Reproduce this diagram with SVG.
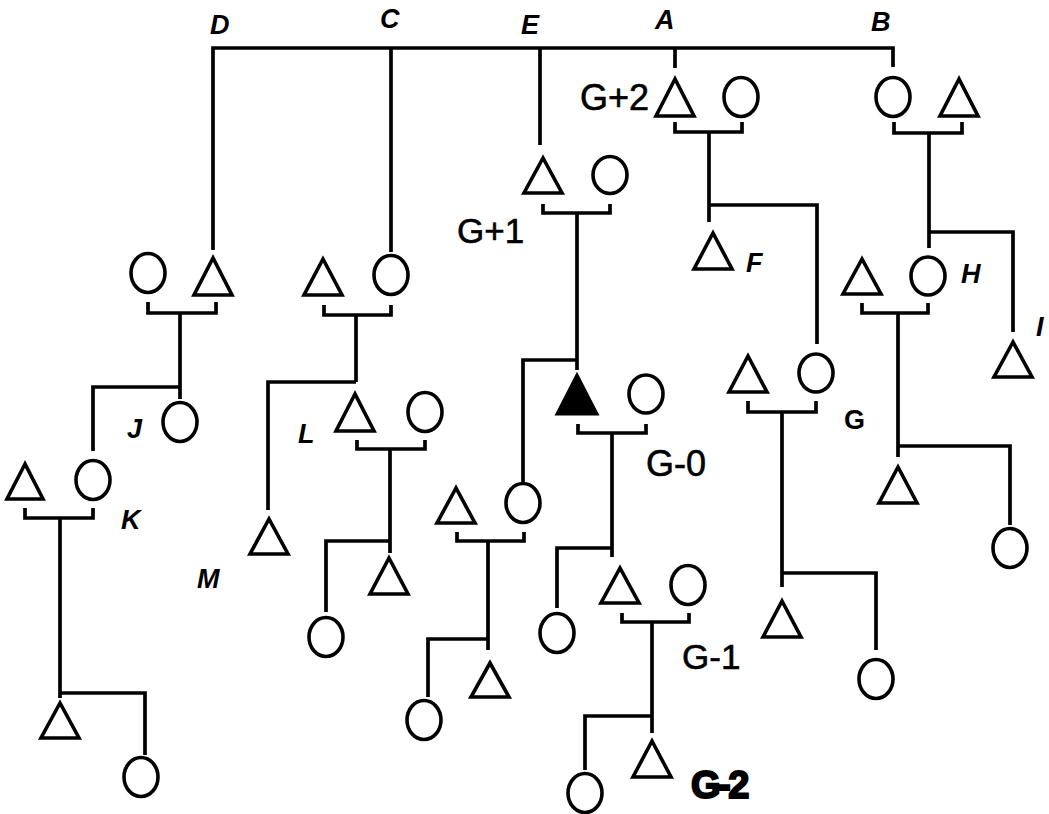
<svg xmlns="http://www.w3.org/2000/svg" width="1049" height="814" viewBox="0 0 1049 814">
<style>
.ln{fill:none;stroke:#000;stroke-width:3.7;stroke-linejoin:miter;stroke-linecap:butt}
.m{fill:#fff;stroke:#000;stroke-width:3.6;stroke-linejoin:miter}
.pf{fill:#000;stroke:#000;stroke-width:3}
.lt{font-family:"Liberation Sans",Arial,sans-serif;font-style:italic;font-weight:bold;font-size:27px;fill:#000}
.gt{font-family:"Liberation Sans",Arial,sans-serif;font-size:35px;fill:#000;stroke:#000;stroke-width:0.6}
.gb{font-family:"Liberation Sans",Arial,sans-serif;font-size:38px;font-weight:bold;fill:#000;stroke:#000;stroke-width:2;letter-spacing:-2.5px}
</style>
<rect width="1049" height="814" fill="#fff"/>
<g id="connectors">
<path class="ln" d="M213,250 V48 H893 V67"/>
<path class="ln" d="M391,48 V252"/>
<path class="ln" d="M540,48 V145"/>
<path class="ln" d="M675,48 V68"/>
<path class="ln" d="M675,122 V132 H742 V122"/>
<path class="ln" d="M709,132 V222 M709,205 H817 V344"/>
<path class="ln" d="M894,122 V133 H962 V122"/>
<path class="ln" d="M929,133 V248 M929,232 H1013 V332"/>
<path class="ln" d="M543,204 V213 H610 V204"/>
<path class="ln" d="M577,213 V370 M577,360 H523 V482"/>
<path class="ln" d="M148,302 V313 H216 V302"/>
<path class="ln" d="M180,313 V399 M180,387 H93 V451"/>
<path class="ln" d="M324,305 V315 H391 V305"/>
<path class="ln" d="M356,315 V382 M356,382 H268 V510"/>
<path class="ln" d="M357,440 V449 H425 V440"/>
<path class="ln" d="M390,449 V553 M390,541 H326 V612"/>
<path class="ln" d="M25,508 V518 H93 V508"/>
<path class="ln" d="M60,518 V698 M60,693 H145 V755"/>
<path class="ln" d="M578,424 V433 H646 V424"/>
<path class="ln" d="M612,433 V557 M612,548 H557 V608"/>
<path class="ln" d="M457,532 V541 H524 V532"/>
<path class="ln" d="M488,541 V650 M488,639 H428 V697"/>
<path class="ln" d="M748,401 V412 H816 V401"/>
<path class="ln" d="M782,412 V587 M782,573 H876 V650"/>
<path class="ln" d="M862,303 V313 H928 V303"/>
<path class="ln" d="M898,313 V457 M898,446 H1010 V525"/>
<path class="ln" d="M622,613 V622 H689 V613"/>
<path class="ln" d="M652,622 V733 M652,716 H585 V770"/>
</g>
<g id="n-A"><polygon class="m" points="675,79 656,116 694,116"/></g>
<g id="n-A-wife"><ellipse class="m" cx="741" cy="97" rx="17" ry="19.5"/></g>
<g id="n-B"><ellipse class="m" cx="893" cy="97" rx="17" ry="19.5"/></g>
<g id="n-B-husband"><polygon class="m" points="959,79 940,116 978,116"/></g>
<g id="n-E"><polygon class="m" points="543,158 524,193 562,193"/></g>
<g id="n-E-wife"><ellipse class="m" cx="610" cy="175" rx="17" ry="18.5"/></g>
<g id="n-F"><polygon class="m" points="713,233 694,269 732,269"/></g>
<g id="n-D-wife"><ellipse class="m" cx="148" cy="273" rx="17" ry="19.5"/></g>
<g id="n-D"><polygon class="m" points="213,258 194,295 232,295"/></g>
<g id="n-C-husband"><polygon class="m" points="323,259 304,295 342,295"/></g>
<g id="n-C"><ellipse class="m" cx="391" cy="275" rx="17" ry="19.5"/></g>
<g id="n-H-husband"><polygon class="m" points="862,259 843,294 881,294"/></g>
<g id="n-H"><ellipse class="m" cx="928" cy="276" rx="17" ry="19"/></g>
<g id="n-I"><polygon class="m" points="1013,342 994,377 1032,377"/></g>
<g id="n-G-husband"><polygon class="m" points="748,356 729,392 767,392"/></g>
<g id="n-G"><ellipse class="m" cx="816" cy="373" rx="17" ry="19"/></g>
<g id="n-ego"><polygon class="pf" points="577,375 557,414 597,414"/></g>
<g id="n-ego-wife"><ellipse class="m" cx="646" cy="394" rx="17" ry="19"/></g>
<g id="n-J"><ellipse class="m" cx="180" cy="422" rx="17" ry="19.5"/></g>
<g id="n-L"><polygon class="m" points="355,394 336,431 374,431"/></g>
<g id="n-L-wife"><ellipse class="m" cx="425" cy="412" rx="17" ry="19.5"/></g>
<g id="n-K-husband"><polygon class="m" points="25,464 7,499 43,499"/></g>
<g id="n-K"><ellipse class="m" cx="93" cy="480" rx="17" ry="19.5"/></g>
<g id="n-E2"><polygon class="m" points="456,488 437,523 475,523"/></g>
<g id="n-E2-wife"><ellipse class="m" cx="523" cy="503" rx="17" ry="19.5"/></g>
<g id="n-H-son"><polygon class="m" points="898,467 879,503 917,503"/></g>
<g id="n-H-daughter"><ellipse class="m" cx="1010" cy="548" rx="17" ry="19.5"/></g>
<g id="n-M"><polygon class="m" points="269,519 250,554 288,554"/></g>
<g id="n-L-son"><polygon class="m" points="389,558 370,594 408,594"/></g>
<g id="n-L-daughter"><ellipse class="m" cx="326" cy="637" rx="17" ry="19.5"/></g>
<g id="n-G1"><polygon class="m" points="620,568 601,603 639,603"/></g>
<g id="n-G1-wife"><ellipse class="m" cx="688" cy="585" rx="17" ry="19.5"/></g>
<g id="n-ego-daughter"><ellipse class="m" cx="557" cy="633" rx="17" ry="19.5"/></g>
<g id="n-G-son"><polygon class="m" points="782,601 763,637 801,637"/></g>
<g id="n-G-daughter"><ellipse class="m" cx="876" cy="679" rx="17" ry="19.5"/></g>
<g id="n-E2-son"><polygon class="m" points="490,663 471,697 509,697"/></g>
<g id="n-E2-daughter"><ellipse class="m" cx="424" cy="720" rx="17" ry="19.5"/></g>
<g id="n-K-son"><polygon class="m" points="60,703 41,738 79,738"/></g>
<g id="n-K-daughter"><ellipse class="m" cx="141" cy="777" rx="17" ry="19.5"/></g>
<g id="n-G2-son"><polygon class="m" points="652,741 633,777 671,777"/></g>
<g id="n-G2-daughter"><ellipse class="m" cx="585" cy="793" rx="17" ry="19.5"/></g>
<g id="labels">
<text class="lt" x="210" y="34">D</text>
<text class="lt" x="380" y="28">C</text>
<text class="lt" x="521" y="34">E</text>
<text class="lt" x="655" y="29">A</text>
<text class="lt" x="871" y="31">B</text>
<text class="lt" x="746" y="272">F</text>
<text class="lt" x="961" y="283">H</text>
<text class="lt" x="1036" y="336">I</text>
<text class="lt" x="127" y="438">J</text>
<text class="lt" x="121" y="529">K</text>
<text class="lt" x="298" y="443">L</text>
<text class="lt" x="197" y="588">M</text>
<text class="lt" x="844" y="429" style="font-style:normal">G</text>
<text class="gt" x="580" y="110" style="font-size:36px">G+2</text>
<text class="gt" x="457" y="243" style="font-size:35px">G+1</text>
<text class="gt" x="646" y="476" style="font-size:36px">G-0</text>
<text class="gt" x="682" y="669" style="font-size:35px">G-1</text>
<text class="gb" x="691" y="798">G-2</text>
</g>
</svg>
